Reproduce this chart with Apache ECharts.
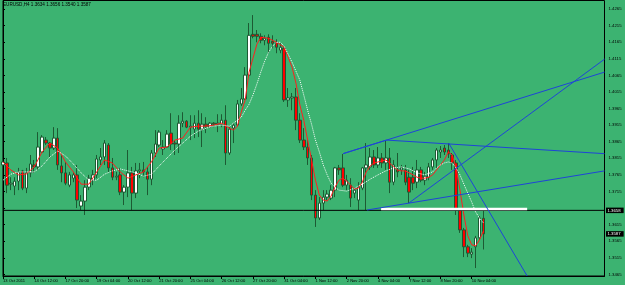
<!DOCTYPE html>
<html><head><meta charset="utf-8">
<script src="https://cdn.jsdelivr.net/npm/echarts@6/dist/echarts.min.js"></script>
<style>html,body{margin:0;padding:0;background:#3cb371;overflow:hidden}#c{width:625px;height:285px}</style>
</head><body><div id="c"></div>
<script>
const chartTitle = 'EURUSD,H4 1.3634 1.3656 1.3540 1.3587';
const timeLabels = ['13 Oct 2011','14 Oct 12:00','17 Oct 20:00','19 Oct 04:00','20 Oct 12:00','21 Oct 20:00','25 Oct 04:00','26 Oct 12:00','27 Oct 20:00','31 Oct 04:00','1 Nov 12:00','2 Nov 20:00','4 Nov 04:00','7 Nov 12:00','8 Nov 20:00','10 Nov 04:00'];
const opens = [1.3795,1.3801,1.3737,1.3731,1.3746,1.3777,1.3725,1.3771,1.3795,1.3789,1.3834,1.3870,1.3861,1.3846,1.3876,1.3792,1.3771,1.3734,1.3755,1.3765,1.3671,1.3686,1.3728,1.3749,1.3765,1.3810,1.3819,1.3855,1.3786,1.3758,1.3765,1.3713,1.3728,1.3771,1.3710,1.3777,1.3780,1.3774,1.3752,1.3831,1.3855,1.3843,1.3849,1.3891,1.3861,1.3858,1.3921,1.3927,1.3909,1.3903,1.3921,1.3903,1.3918,1.3909,1.3921,1.3918,1.3918,1.3930,1.3831,1.3906,1.3915,1.3979,1.3994,1.4066,1.4189,1.4189,1.4183,1.4171,1.4180,1.4168,1.4165,1.4141,1.4147,1.3991,1.3997,1.4000,1.3930,1.3870,1.3849,1.3816,1.3704,1.3635,1.3680,1.3698,1.3695,1.3719,1.3786,1.3786,1.3734,1.3734,1.3710,1.3689,1.3725,1.3786,1.3789,1.3819,1.3795,1.3816,1.3801,1.3816,1.3743,1.3780,1.3780,1.3780,1.3758,1.3758,1.3743,1.3780,1.3749,1.3758,1.3789,1.3810,1.3834,1.3846,1.3840,1.3825,1.3801,1.3659,1.3599,1.3548,1.3526,1.3548,1.3575,1.3634];
const closes = [1.3804,1.3734,1.3740,1.3746,1.3774,1.3725,1.3771,1.3798,1.3789,1.3849,1.3879,1.3861,1.3846,1.3876,1.3795,1.3771,1.3740,1.3765,1.3765,1.3689,1.3686,1.3728,1.3755,1.3765,1.3813,1.3819,1.3861,1.3786,1.3758,1.3761,1.3713,1.3728,1.3771,1.3710,1.3777,1.3780,1.3774,1.3752,1.3831,1.3858,1.3894,1.3849,1.3888,1.3858,1.3858,1.3921,1.3927,1.3909,1.3912,1.3921,1.3903,1.3918,1.3912,1.3921,1.3918,1.3921,1.3930,1.3831,1.3903,1.3915,1.3979,1.3994,1.4066,1.4186,1.4183,1.4183,1.4171,1.4177,1.4162,1.4162,1.4150,1.4150,1.3991,1.3997,1.4000,1.3930,1.3870,1.3849,1.3816,1.3704,1.3635,1.3680,1.3698,1.3707,1.3719,1.3786,1.3780,1.3734,1.3749,1.3695,1.3719,1.3728,1.3786,1.3795,1.3819,1.3795,1.3816,1.3801,1.3816,1.3743,1.3795,1.3774,1.3786,1.3743,1.3713,1.3740,1.3780,1.3749,1.3761,1.3789,1.3810,1.3840,1.3840,1.3834,1.3828,1.3801,1.3659,1.3599,1.3548,1.3529,1.3532,1.3575,1.3635,1.3587];
const lows = [1.3780,1.3710,1.3719,1.3704,1.3719,1.3719,1.3710,1.3758,1.3771,1.3780,1.3831,1.3855,1.3816,1.3840,1.3780,1.3743,1.3734,1.3728,1.3743,1.3665,1.3659,1.3644,1.3719,1.3734,1.3755,1.3795,1.3795,1.3774,1.3749,1.3749,1.3704,1.3674,1.3698,1.3659,1.3695,1.3755,1.3758,1.3704,1.3734,1.3819,1.3849,1.3825,1.3846,1.3840,1.3825,1.3831,1.3909,1.3906,1.3870,1.3876,1.3879,1.3849,1.3891,1.3906,1.3909,1.3894,1.3909,1.3795,1.3825,1.3861,1.3912,1.3973,1.3991,1.4060,1.4177,1.4165,1.4162,1.4156,1.4132,1.4147,1.4132,1.4132,1.3985,1.3970,1.3960,1.3900,1.3861,1.3840,1.3795,1.3689,1.3608,1.3629,1.3659,1.3689,1.3689,1.3698,1.3765,1.3728,1.3719,1.3668,1.3695,1.3659,1.3719,1.3659,1.3780,1.3786,1.3786,1.3786,1.3780,1.3710,1.3734,1.3758,1.3765,1.3734,1.3680,1.3719,1.3725,1.3743,1.3734,1.3749,1.3780,1.3786,1.3816,1.3825,1.3816,1.3780,1.3644,1.3590,1.3517,1.3517,1.3514,1.3484,1.3569,1.3540];
const highs = [1.3825,1.3816,1.3758,1.3758,1.3786,1.3780,1.3786,1.3825,1.3810,1.3894,1.3885,1.3879,1.3864,1.3909,1.3906,1.3825,1.3804,1.3774,1.3774,1.3795,1.3704,1.3749,1.3765,1.3780,1.3825,1.3846,1.3870,1.3861,1.3816,1.3774,1.3786,1.3734,1.3840,1.3789,1.3801,1.3801,1.3804,1.3789,1.3840,1.3900,1.3900,1.3870,1.3900,1.3951,1.3870,1.3945,1.3954,1.3930,1.3945,1.3945,1.3960,1.3951,1.3939,1.3924,1.3924,1.3948,1.3948,1.3975,1.3909,1.3921,1.3991,1.4027,1.4090,1.4223,1.4247,1.4202,1.4192,1.4186,1.4189,1.4186,1.4174,1.4162,1.4150,1.4027,1.4012,1.4027,1.3951,1.3906,1.3870,1.3825,1.3719,1.3698,1.3719,1.3719,1.3734,1.3789,1.3795,1.3828,1.3765,1.3755,1.3728,1.3743,1.3789,1.3861,1.3846,1.3840,1.3849,1.3831,1.3870,1.3846,1.3810,1.3831,1.3795,1.3795,1.3780,1.3789,1.3810,1.3789,1.3774,1.3801,1.3816,1.3846,1.3852,1.3855,1.3861,1.3831,1.3810,1.3665,1.3605,1.3554,1.3544,1.3581,1.3641,1.3656];
const maFast = [[0,1.3804],[2,1.3780],[4,1.3765],[6,1.3768],[8,1.3789],[10,1.3834],[12,1.3861],[14,1.3846],[16,1.3804],[18,1.3774],[20,1.3737],[22,1.3737],[24,1.3774],[26,1.3810],[28,1.3801],[30,1.3774],[32,1.3755],[34,1.3765],[36,1.3774],[38,1.3804],[40,1.3846],[42,1.3849],[44,1.3870],[46,1.3876],[48,1.3909],[50,1.3912],[52,1.3912],[54,1.3915],[56,1.3921],[58,1.3906],[59,1.3900],[60,1.3912],[61,1.3954],[62,1.3991],[63,1.4075],[64,1.4117],[65,1.4159],[66,1.4180],[68,1.4177],[70,1.4165],[72,1.4150],[73,1.4120],[74,1.4090],[75,1.4042],[76,1.3976],[77,1.3930],[78,1.3870],[79,1.3810],[80,1.3749],[81,1.3704],[82,1.3689],[83,1.3686],[84,1.3701],[85,1.3728],[86,1.3749],[87,1.3755],[88,1.3746],[89,1.3734],[90,1.3722],[91,1.3725],[92,1.3743],[93,1.3774],[94,1.3792],[95,1.3801],[96,1.3804],[97,1.3807],[98,1.3810],[99,1.3801],[100,1.3789],[101,1.3780],[102,1.3777],[103,1.3777],[104,1.3771],[105,1.3765],[106,1.3758],[107,1.3755],[108,1.3755],[109,1.3758],[110,1.3765],[111,1.3780],[112,1.3795],[113,1.3810],[114,1.3834],[115,1.3825],[116,1.3786],[117,1.3719],[118,1.3644],[119,1.3581],[120,1.3554],[121,1.3551],[122,1.3569],[123,1.3596]];
const maSlow = [[0,1.3749],[2,1.3767],[4,1.3774],[6,1.3774],[8,1.3774],[10,1.3792],[12,1.3819],[14,1.3837],[16,1.3822],[18,1.3798],[20,1.3771],[22,1.3749],[24,1.3749],[26,1.3767],[28,1.3777],[30,1.3783],[32,1.3777],[34,1.3771],[36,1.3761],[38,1.3767],[40,1.3792],[42,1.3816],[44,1.3840],[46,1.3861],[48,1.3882],[50,1.3897],[52,1.3906],[54,1.3912],[56,1.3915],[58,1.3912],[60,1.3930],[61,1.3939],[62,1.3960],[63,1.3978],[64,1.4006],[65,1.4039],[66,1.4075],[67,1.4108],[68,1.4135],[69,1.4153],[70,1.4165],[71,1.4165],[72,1.4153],[73,1.4129],[74,1.4105],[75,1.4078],[76,1.4051],[77,1.4006],[78,1.3960],[79,1.3918],[80,1.3870],[81,1.3834],[82,1.3795],[83,1.3765],[84,1.3740],[85,1.3728],[86,1.3719],[88,1.3716],[90,1.3725],[92,1.3737],[94,1.3752],[96,1.3765],[98,1.3777],[100,1.3786],[102,1.3789],[104,1.3783],[106,1.3771],[108,1.3765],[110,1.3774],[111,1.3786],[112,1.3795],[113,1.3801],[114,1.3804],[115,1.3801],[116,1.3786],[117,1.3765],[118,1.3737],[119,1.3710],[120,1.3683],[121,1.3653],[122,1.3635],[123,1.3620]];
const priceTicks = [1.3465,1.3515,1.3565,1.3615,1.3665,1.3715,1.3765,1.3815,1.3865,1.3915,1.3965,1.4015,1.4065,1.4115,1.4165,1.4215,1.4265];
const priceLabels = [1.3465,1.3515,1.3565,1.3615,1.3715,1.3765,1.3815,1.3865,1.3915,1.3965,1.4015,1.4065,1.4115,1.4165,1.4215,1.4265];
const hLineLevel = 1.3658;
const bidLevel = 1.3587;
const whiteSegment = [[96.8,1.3662],[134.2,1.3662]];
const trendA = [[87.06,1.3829],[98.16,1.3870]];
const trendB = [[98.16,1.3870],[154,1.3829]];
const trendC = [[87.06,1.3829],[154,1.4075]];
const trendD = [[93.2,1.3659],[154,1.3777]];
const trendE = [[103.9,1.3680],[154,1.4114]];
const trendF = [[114.1,1.3861],[134.2,1.3460]];
const slotCount = 155;

const candles = opens.map((o, i) => [o, closes[i], lows[i], highs[i]]);
const categories = Array.from({length: slotCount}, (_, i) => String(i));
const labelEvery = (idx) => idx % 8 === 0 && idx / 8 < timeLabels.length;
const FONT = 'Liberation Sans';
const boxLabel = (txt) => ({
  show: true, distance: 1.5,
  formatter: () => txt,
  backgroundColor: '#000', color: '#fff', fontSize: 4.3, fontFamily: FONT,
  padding: [1, 3, 0.5, 1.5]
});
const blueSeries = [trendA, trendB, trendC, trendD, trendE, trendF].map(d => ({
  type: 'line', xAxisIndex: 1, data: d, showSymbol: false, symbol: 'none', silent: true,
  lineStyle: {color: '#1e44d8', width: 1}, z: 6
}));
const lastSlot = slotCount - 1;

const chart = echarts.init(document.getElementById('c'), null, {renderer: 'canvas'});
chart.setOption({
  animation: false,
  backgroundColor: '#3cb371',
  textStyle: {fontFamily: FONT},
  title: {text: chartTitle, left: 3, top: 1.8, padding: 0,
    textStyle: {fontSize: 4.6, fontWeight: 'normal', color: '#000', fontFamily: FONT}},
  grid: {left: 0.5, top: 0.5, width: 604, height: 275.5, show: true, borderColor: '#000', borderWidth: 1, backgroundColor: 'transparent'},
  xAxis: [{
    type: 'category', data: categories, boundaryGap: false,
    axisLine: {lineStyle: {color: '#000', width: 1}},
    axisTick: {interval: labelEvery, length: 3, lineStyle: {color: '#000'}},
    axisLabel: {interval: labelEvery, formatter: (v, idx) => timeLabels[idx / 8], align: 'left', margin: 2.5, fontSize: 4.1, color: '#000', fontFamily: FONT},
    splitLine: {show: false}
  }, {
    type: 'value', min: 0, max: lastSlot, show: false
  }],
  yAxis: {
    type: 'value', position: 'right', min: 1.3460, max: 1.4291, scale: true,
    axisLine: {show: true, lineStyle: {color: '#000', width: 1}},
    axisTick: {show: true, customValues: priceTicks, length: 2, lineStyle: {color: '#000'}},
    axisLabel: {customValues: priceLabels, formatter: v => Number(v).toFixed(4), margin: 4, fontSize: 4.3, color: '#000', fontFamily: FONT},
    splitLine: {show: false}
  },
  series: [
    {
      type: 'candlestick', data: candles, barWidth: 3, z: 3,
      itemStyle: {color: '#ffffff', color0: '#ff0000', borderColor: '#1d5a33', borderColor0: '#1d5a33', borderWidth: 1}
    },
    {type: 'line', xAxisIndex: 1, data: maFast, showSymbol: false, symbol: 'none', silent: true,
      lineStyle: {color: '#ff1e1e', width: 1}, z: 4},
    {type: 'line', xAxisIndex: 1, data: maSlow, showSymbol: false, symbol: 'none', silent: true,
      lineStyle: {color: '#ffffff', width: 1, type: 'dotted'}, z: 4},
    {type: 'line', xAxisIndex: 1, data: [[0, hLineLevel], [lastSlot, hLineLevel]], showSymbol: false, symbol: 'none', silent: true,
      lineStyle: {color: '#000000', width: 1}, z: 4, clip: false,
      endLabel: boxLabel(hLineLevel.toFixed(4))},
    {type: 'line', xAxisIndex: 1, data: [[lastSlot - 0.01, bidLevel], [lastSlot, bidLevel]], showSymbol: false, symbol: 'none', silent: true,
      lineStyle: {color: 'rgba(0,0,0,0)', width: 1}, z: 4, clip: false,
      endLabel: boxLabel(bidLevel.toFixed(4))},
    {type: 'line', xAxisIndex: 1, data: whiteSegment, showSymbol: false, symbol: 'none', silent: true,
      lineStyle: {color: '#ffffff', width: 2.5}, z: 5},
    ...blueSeries
  ]
});
</script></body></html>
